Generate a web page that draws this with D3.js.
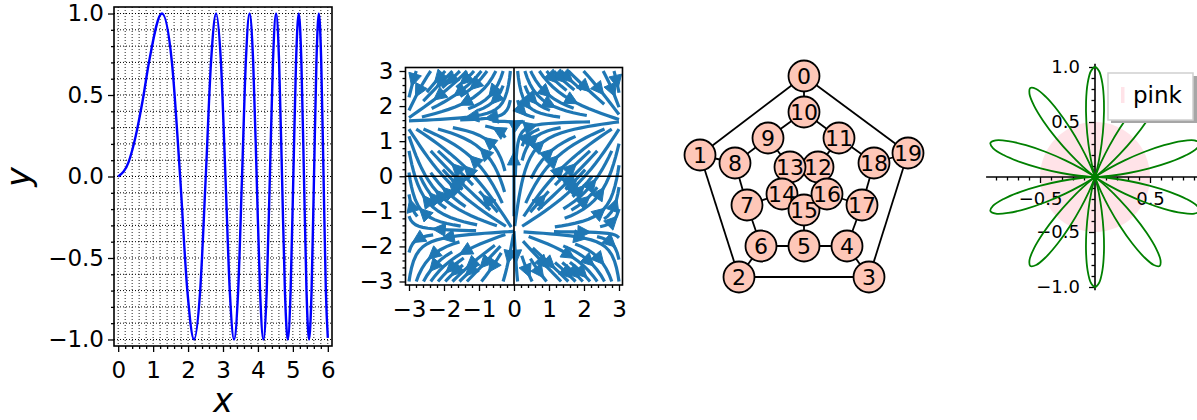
<!DOCTYPE html>
<html>
<head>
<meta charset="utf-8">
<script src="https://cdn.jsdelivr.net/npm/d3@7"></script>
<style>
  body { margin: 0; background: #fff; }
  text { font-family: 'DejaVu Sans', sans-serif; fill: #000; }
</style>
</head>
<body>
<div id="container"></div>
<script>
// ---- panel 1: y = sin(x^2) ----
const curveX = [0, 0.3, 0.5, 0.7, 0.8862, 1.2533, 1.5350, 1.7725, 1.9817, 2.1708, 2.3447, 2.5066,
  2.6587, 2.8025, 2.9393, 3.0700, 3.1954, 3.3160, 3.4324, 3.5449, 3.6540, 3.7599, 3.8630,
  3.9633, 4.0612, 4.1568, 4.2502, 4.3416, 4.4311, 4.5189, 4.6050, 4.6895, 4.7726, 4.8541,
  4.9343, 5.0133, 5.0910, 5.1675, 5.2429, 5.3174, 5.3907, 5.4632, 5.5346, 5.6050, 5.6747,
  5.7434, 5.8113, 5.8783, 5.9446, 6];
const curveY = [0, 0.09, 0.247, 0.466, 0.707, 1, 0.707, 0, -0.707, -1, -0.707, 0,
  0.707, 1, 0.707, 0, -0.707, -1, -0.707, 0, 0.707, 1, 0.707,
  0, -0.707, -1, -0.707, 0, 0.707, 1, 0.707, 0, -0.707, -1,
  -0.707, 0, 0.707, 1, 0.707, 0, -0.707, -1, -0.707, 0, 0.707,
  1, 0.707, 0, -0.707, -0.99];
const xTicks1 = [0, 1, 2, 3, 4, 5, 6];
const yTicks1 = [-1, -0.5, 0, 0.5, 1];

// ---- panel 2: streamlines of the field (sin x, cos y) ----
const streamRange = [-3, 3];
const streamTicks = [-3, -2, -1, 0, 1, 2, 3];
const fieldU = (x, y) => Math.sin(x);
const fieldV = (x, y) => Math.cos(y);

// ---- panel 3: dodecahedral graph ----
const nodeIds = d3.range(20);
const nodeX = [0, -1.04, -0.65, 0.65, 0.43, 0, -0.43, -0.57, -0.69, -0.36,
  0, 0.35, 0.14, -0.14, -0.22, 0, 0.23, 0.58, 0.70, 1.04];
const nodeY = [1.01, 0.22, -1.00, -1.00, -0.69, -0.69, -0.69, -0.28, 0.14, 0.39,
  0.65, 0.39, 0.10, 0.10, -0.17, -0.33, -0.17, -0.28, 0.14, 0.24];
const edges = [[0, 1], [0, 10], [0, 19], [1, 2], [1, 8], [2, 3], [2, 6], [3, 19], [3, 4],
  [4, 5], [4, 17], [5, 6], [5, 15], [6, 7], [7, 8], [7, 14], [8, 9], [9, 10], [9, 13],
  [10, 11], [11, 12], [11, 18], [12, 13], [12, 16], [13, 14], [14, 15], [15, 16],
  [16, 17], [17, 18], [18, 19]];

// ---- panel 4: ten-petal rose + pink disc ----
const petalAngles = [18, 54, 90, 126, 162, 198, 234, 270, 306, 342];
const petalOffsets = [-18, -15.75, -13.5, -11.25, -9, -6.75, -4.5, -2.25, 0,
  2.25, 4.5, 6.75, 9, 11.25, 13.5, 15.75, 18];
const petalRadii = [0, 0.038, 0.146, 0.309, 0.5, 0.691, 0.854, 0.962, 1,
  0.962, 0.854, 0.691, 0.5, 0.309, 0.146, 0.038, 0];
const discRadius = 0.5;
const legendLabels = ['pink'];
const polarTicks = [-1, -0.5, 0.5, 1];

const W = 1197, H = 420;
const svg = d3.select('#container').append('svg')
  .attr('width', W).attr('height', H);

const fmt = d3.format('.1f');

function ticksOn(g, axis, values, size, labels, font, pad) {
  const a = axis.tickValues(values).tickSize(size).tickPadding(pad === undefined ? 10 : pad)
    .tickFormat(labels || (() => ''));
  g.call(a);
  g.select('.domain').remove();
  g.selectAll('line').attr('stroke', '#000').attr('stroke-width', 1.3);
  g.selectAll('text').attr('font-size', font || 23).attr('fill', '#000')
    .attr('font-family', 'DejaVu Sans');
  return g;
}
const minorOf = (lo, hi, step, majors) => d3.range(Math.round((hi - lo) / step) + 1)
  .map(i => +(lo + i * step).toFixed(3))
  .filter(v => !majors.some(m => Math.abs(m - v) < 1e-6));

// 1. sin(x^2) panel
function panelOne() {
  const x = d3.scaleLinear().domain([-0.12, 6.12]).range([114, 332]);
  const y = d3.scaleLinear().domain([-1.04, 1.04]).range([346, 7]);
  const g = svg.append('g');

  const xMinor = minorOf(0, 6, 0.2, xTicks1);
  const yMinor = minorOf(-1, 1, 0.1, yTicks1);

  // grid, dotted
  const vgrid = xMinor.concat(xTicks1), hgrid = yMinor.concat(yTicks1);
  g.selectAll('.vg').data(vgrid).enter().append('line')
    .attr('x1', d => x(d)).attr('x2', d => x(d)).attr('y1', y(1.04)).attr('y2', y(-1.04))
    .attr('stroke', '#222').attr('stroke-width', 1).attr('stroke-dasharray', '1,2');
  g.selectAll('.hg').data(hgrid).enter().append('line')
    .attr('y1', d => y(d)).attr('y2', d => y(d)).attr('x1', x(-0.12)).attr('x2', x(6.12))
    .attr('stroke', '#000').attr('stroke-width', 1).attr('stroke-dasharray', '1,2');

  const line = d3.line().x(d => x(d[0])).y(d => y(d[1])).curve(d3.curveMonotoneX);
  g.append('path')
    .attr('d', line(curveX.map((v, i) => [v, curveY[i]])))
    .attr('fill', 'none').attr('stroke', '#0000ff').attr('stroke-width', 2.4);

  g.append('rect').attr('x', 114).attr('y', 7).attr('width', 218).attr('height', 339)
    .attr('fill', 'none').attr('stroke', '#000').attr('stroke-width', 1.6);

  ticksOn(g.append('g').attr('transform', 'translate(0,346)'), d3.axisBottom(x), xTicks1, 6, d => d);
  ticksOn(g.append('g').attr('transform', 'translate(0,346)'), d3.axisBottom(x), xMinor, 3);
  ticksOn(g.append('g').attr('transform', 'translate(114,0)'), d3.axisLeft(y), yTicks1, 6, fmt, 23, 4);
  ticksOn(g.append('g').attr('transform', 'translate(114,0)'), d3.axisLeft(y), yMinor, 3);

  g.append('text').attr('x', 223).attr('y', 412).attr('text-anchor', 'middle')
    .attr('font-size', 33).attr('font-style', 'italic').text('x');
  g.append('text').attr('transform', 'translate(30,177) rotate(-90)')
    .attr('text-anchor', 'middle').attr('font-size', 33).attr('font-style', 'italic').text('y');
}

// 2. streamline panel (matplotlib-like streamplot)
function streamlines() {
  const n = 20, maskN = 30;
  const span = streamRange[1] - streamRange[0];
  const gx = d3.range(n).map(i => streamRange[0] + i * span / (n - 1));
  const ug = gx.map(yv => gx.map(xv => fieldU(xv, yv) * (n - 1) / span));
  const vg = gx.map(yv => gx.map(xv => fieldV(xv, yv) * (n - 1) / span));
  const speed = ug.map((row, i) => row.map((u, j) => Math.hypot(u / (n - 1), vg[i][j] / (n - 1))));
  const g2m = (maskN - 1) / (n - 1);
  const mask = d3.range(maskN).map(() => new Array(maskN).fill(0));
  let cur = null, traj = [];

  const within = (xi, yi) => xi >= 0 && xi <= n - 1 && yi >= 0 && yi <= n - 1;
  function interp(a, xi, yi) {
    const x0 = Math.floor(xi), y0 = Math.floor(yi);
    const x1 = x0 === n - 1 ? x0 : x0 + 1, y1 = y0 === n - 1 ? y0 : y0 + 1;
    const xt = xi - x0, yt = yi - y0;
    const a0 = a[y0][x0] * (1 - xt) + a[y0][x1] * xt;
    const a1 = a[y1][x0] * (1 - xt) + a[y1][x1] * xt;
    return a0 * (1 - yt) + a1 * yt;
  }
  function update(xg, yg) {
    if (!within(xg, yg)) throw 'invalid';
    const xm = Math.round(xg * g2m), ym = Math.round(yg * g2m);
    if (!cur || cur[0] !== xm || cur[1] !== ym) {
      if (mask[ym][xm] === 0) { traj.push([ym, xm]); mask[ym][xm] = 1; cur = [xm, ym]; }
      else throw 'invalid';
    }
  }
  function f(xi, yi, dir) {
    if (!within(xi, yi)) throw 'oob';
    const s = interp(speed, xi, yi);
    if (s === 0) throw 'term';
    return [dir * interp(ug, xi, yi) / s, dir * interp(vg, xi, yi) / s];
  }
  function euler(pts, dir) {
    const [xi, yi] = pts[pts.length - 1];
    const [cx, cy] = f(xi, yi, dir);
    const dsx = cx === 0 ? Infinity : cx < 0 ? xi / -cx : (n - 1 - xi) / cx;
    const dsy = cy === 0 ? Infinity : cy < 0 ? yi / -cy : (n - 1 - yi) / cy;
    const ds = Math.min(dsx, dsy);
    pts.push([xi + cx * ds, yi + cy * ds]);
    return ds;
  }
  function rk12(x0, y0, dir, maxlength) {
    const maxds = Math.min(1 / maskN, 0.1), maxerror = 0.003;
    let ds = maxds, stotal = 0, xi = x0, yi = y0;
    const pts = [];
    while (true) {
      let k1, k2;
      try {
        if (within(xi, yi)) pts.push([xi, yi]); else throw 'oob';
        k1 = f(xi, yi, dir);
        k2 = f(xi + ds * k1[0], yi + ds * k1[1], dir);
      } catch (e) {
        if (e === 'oob' && pts.length) stotal += euler(pts, dir);
        break;
      }
      const dx1 = ds * k1[0], dy1 = ds * k1[1];
      const dx2 = ds * 0.5 * (k1[0] + k2[0]), dy2 = ds * 0.5 * (k1[1] + k2[1]);
      const err = Math.hypot((dx2 - dx1) / (n - 1), (dy2 - dy1) / (n - 1));
      if (err < maxerror) {
        xi += dx2; yi += dy2;
        try { update(xi, yi); } catch (e) { break; }
        if (stotal + ds > maxlength) break;
        stotal += ds;
      }
      ds = err === 0 ? maxds : Math.min(maxds, 0.85 * ds * Math.sqrt(maxerror / err));
    }
    return [stotal, pts];
  }
  function integrate(xg, yg) {
    traj = [];
    try { update(xg, yg); } catch (e) { return null; }
    const [s1, back] = rk12(xg, yg, -1, 2);
    cur = [Math.round(xg * g2m), Math.round(yg * g2m)];
    const [s2, fwd] = rk12(xg, yg, 1, 2);
    if (s1 + s2 > 0.1) return back.reverse().concat(fwd.slice(1));
    traj.forEach(([ym, xm]) => { mask[ym][xm] = 0; });
    return null;
  }
  function* spiral(nx, ny) {
    let xfirst = 0, yfirst = 1, xlast = nx - 1, ylast = ny - 1, x = 0, y = 0, dir = 'right';
    for (let i = 0; i < nx * ny; i++) {
      yield [x, y];
      if (dir === 'right') { x++; if (x >= xlast) { xlast--; dir = 'up'; } }
      else if (dir === 'up') { y++; if (y >= ylast) { ylast--; dir = 'left'; } }
      else if (dir === 'left') { x--; if (x <= xfirst) { xfirst++; dir = 'down'; } }
      else { y--; if (y <= yfirst) { yfirst++; dir = 'right'; } }
    }
  }
  const out = [];
  for (const [xm, ym] of spiral(maskN, maskN)) {
    if (mask[ym][xm] === 0) {
      const t = integrate(xm / g2m, ym / g2m);
      if (t) out.push(t.map(([a, b]) => [streamRange[0] + a * span / (n - 1), streamRange[0] + b * span / (n - 1)]));
    }
  }
  return out;
}

function panelTwo() {
  const x = d3.scaleLinear().domain([-3.1, 3.1]).range([405.5, 622.5]);
  const y = d3.scaleLinear().domain([-3.1, 3.1]).range([285, 67.5]);
  const g = svg.append('g');
  const color = '#1f77b4';
  const trajs = streamlines();
  const line = d3.line().x(d => x(d[0])).y(d => y(d[1]));

  g.selectAll('.stream').data(trajs).enter().append('path')
    .attr('d', d => line(d)).attr('fill', 'none').attr('stroke', color)
    .attr('stroke-width', 3.2).attr('stroke-linecap', 'butt');

  // arrow heads at the middle of each streamline
  trajs.forEach(t => {
    if (t.length < 2) return;
    const s = d3.cumsum(d3.pairs(t), ([a, b]) => Math.hypot(b[0] - a[0], b[1] - a[1]));
    const k = d3.bisectLeft(s, s[s.length - 1] / 2);
    const tail = t[k];
    const nxt = t[Math.min(k + 1, t.length - 1)];
    const head = [(tail[0] + nxt[0]) / 2, (tail[1] + nxt[1]) / 2];
    const px = x(head[0]), py = y(head[1]);
    let dx = x(nxt[0]) - x(tail[0]), dy = y(nxt[1]) - y(tail[1]);
    const len = Math.hypot(dx, dy);
    if (len === 0) return;
    dx /= len; dy /= len;
    const L = 13, Wd = 6.5;
    const tipX = px + dx * L * 0.45, tipY = py + dy * L * 0.45;
    const bx = tipX - dx * L, by = tipY - dy * L;
    g.append('path')
      .attr('d', `M${tipX},${tipY}L${bx - dy * Wd},${by + dx * Wd}L${bx + dy * Wd},${by - dx * Wd}Z`)
      .attr('fill', color).attr('stroke', color).attr('stroke-width', 1);
  });

  // axes through origin
  g.append('line').attr('x1', x(0)).attr('x2', x(0)).attr('y1', y(3.1)).attr('y2', y(-3.1))
    .attr('stroke', '#000').attr('stroke-width', 1.6);
  g.append('line').attr('y1', y(0)).attr('y2', y(0)).attr('x1', x(-3.1)).attr('x2', x(3.1))
    .attr('stroke', '#000').attr('stroke-width', 1.6);

  g.append('rect').attr('x', 405.5).attr('y', 67.5).attr('width', 217).attr('height', 217.5)
    .attr('fill', 'none').attr('stroke', '#000').attr('stroke-width', 1.6);

  const minor = minorOf(-3, 3, 0.2, streamTicks);
  ticksOn(g.append('g').attr('transform', 'translate(0,285)'), d3.axisBottom(x), streamTicks, 6, d => d3.format('d')(d));
  ticksOn(g.append('g').attr('transform', 'translate(0,285)'), d3.axisBottom(x), minor, 3);
  ticksOn(g.append('g').attr('transform', 'translate(405.5,0)'), d3.axisLeft(y), streamTicks, 6, d => d3.format('d')(d), 23, 6);
  ticksOn(g.append('g').attr('transform', 'translate(405.5,0)'), d3.axisLeft(y), minor, 3);
}

// 3. graph panel
function panelThree() {
  const x = d3.scaleLinear().domain([-1, 1]).range([704, 904]);
  const y = d3.scaleLinear().domain([-1, 1]).range([277, 77]);
  const g = svg.append('g');
  g.selectAll('.edge').data(edges).enter().append('line')
    .attr('x1', d => x(nodeX[d[0]])).attr('y1', d => y(nodeY[d[0]]))
    .attr('x2', d => x(nodeX[d[1]])).attr('y2', d => y(nodeY[d[1]]))
    .attr('stroke', '#000').attr('stroke-width', 1.8);
  const nodes = g.selectAll('.node').data(nodeIds).enter().append('g')
    .attr('transform', d => `translate(${x(nodeX[d])},${y(nodeY[d])})`);
  nodes.append('circle').attr('r', 15.5).attr('fill', '#fec7b8')
    .attr('stroke', '#000').attr('stroke-width', 1.8);
  nodes.append('text').attr('text-anchor', 'middle').attr('dy', '0.36em')
    .attr('font-size', 22).text(d => d);
}

// 4. polar panel
function panelFour() {
  const cx = 1095, cy = 177, unit = 110;
  const x = d3.scaleLinear().domain([-1, 1]).range([cx - unit, cx + unit]);
  const y = d3.scaleLinear().domain([-1, 1]).range([cy + unit, cy - unit]);
  const g = svg.append('g');

  g.append('circle').attr('cx', x(0)).attr('cy', y(0)).attr('r', x(discRadius) - x(0))
    .attr('fill', 'pink').attr('fill-opacity', 0.45);

  g.append('line').attr('x1', x(-0.99)).attr('x2', x(1.1)).attr('y1', y(0)).attr('y2', y(0))
    .attr('stroke', '#000').attr('stroke-width', 1.6);
  g.append('line').attr('x1', x(0)).attr('x2', x(0)).attr('y1', y(1.03)).attr('y2', y(-1.03))
    .attr('stroke', '#000').attr('stroke-width', 1.6);

  const xMaj = [-0.5, 0.5];
  const xMin = minorOf(-0.9, 0.9, 0.1, [-0.5, 0, 0.5]);
  const yMin = minorOf(-1, 1, 0.1, [-1, -0.5, 0, 0.5, 1]);
  ticksOn(g.append('g').attr('transform', `translate(0,${cy})`), d3.axisBottom(x), xMaj, 6, fmt, 18, 9);
  ticksOn(g.append('g').attr('transform', `translate(0,${cy})`), d3.axisBottom(x), xMin, 3.5);
  ticksOn(g.append('g').attr('transform', `translate(${cx},0)`), d3.axisLeft(y), polarTicks, 6, fmt, 18, 9);
  ticksOn(g.append('g').attr('transform', `translate(${cx},0)`), d3.axisLeft(y), yMin, 3.5);

  const r = d3.scaleLinear().domain([0, 1]).range([0, unit]);
  const ang = d3.scaleLinear().domain([0, 360]).range([Math.PI / 2, Math.PI / 2 - 2 * Math.PI]);
  const petal = d3.lineRadial().angle(d => ang(d.a)).radius(d => r(d.r)).curve(d3.curveCatmullRom);
  g.append('g').attr('transform', `translate(${cx},${cy})`)
    .selectAll('path').data(petalAngles).enter().append('path')
    .attr('d', a0 => petal(petalOffsets.map((o, i) => ({ a: a0 + o, r: petalRadii[i] }))))
    .attr('fill', 'none').attr('stroke', '#008000').attr('stroke-width', 1.8);

  // legend
  const lg = g.append('g');
  lg.append('rect').attr('x', 1111).attr('y', 76).attr('width', 86).attr('height', 47).attr('fill', '#a6a6a6');
  lg.append('rect').attr('x', 1108).attr('y', 73).attr('width', 85).attr('height', 47)
    .attr('fill', '#fff').attr('stroke', '#cfcfcf').attr('stroke-width', 1.5);
  lg.append('rect').attr('x', 1121).attr('y', 87).attr('width', 3.5).attr('height', 16)
    .attr('fill', 'pink').attr('fill-opacity', 0.45);
  lg.selectAll('.lab').data(legendLabels).enter().append('text')
    .attr('x', 1133).attr('y', 103).attr('font-size', 23).text(d => d);
}

panelOne();
panelTwo();
panelThree();
panelFour();
</script>
</body>
</html>
